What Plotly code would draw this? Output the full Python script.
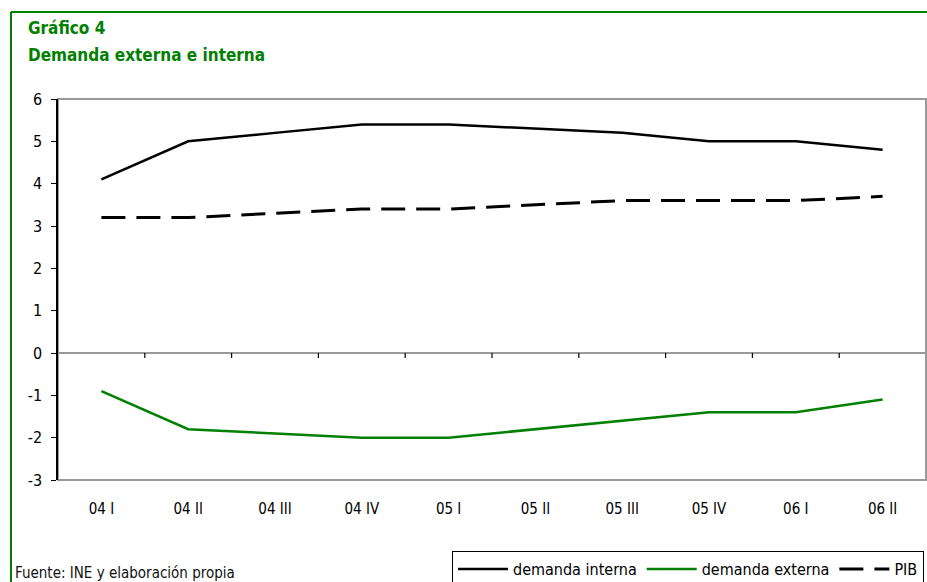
import plotly.graph_objects as go

categories = ["04 I", "04 II", "04 III", "04 IV", "05 I", "05 II", "05 III", "05 IV", "06 I", "06 II"]
demanda_interna = [4.1, 5.0, 5.2, 5.4, 5.4, 5.3, 5.2, 5.0, 5.0, 4.8]
demanda_externa = [-0.9, -1.8, -1.9, -2.0, -2.0, -1.8, -1.6, -1.4, -1.4, -1.1]
pib = [3.2, 3.2, 3.3, 3.4, 3.4, 3.5, 3.6, 3.6, 3.6, 3.7]
y_ticks = [-3, -2, -1, 0, 1, 2, 3, 4, 5, 6]
y_tick_labels = ["-3", "-2", "-1", "0", "1", "2", "3", "4", "5", "6"]

FONT = "DejaVu Sans Condensed, Liberation Sans Narrow, Arial Narrow, sans-serif"
GREEN = "#008000"

W, H = 927, 582
L, R, T, B = 58, 1, 99, 102
pw, ph = W - L - R, H - T - B

def px(x):
    return (x - L) / pw

def py(y):
    return (H - B - y) / ph

fig = go.Figure()
fig.add_trace(go.Scatter(x=categories, y=demanda_interna, name="demanda interna",
                         mode="lines", line=dict(color="black", width=2.5)))
fig.add_trace(go.Scatter(x=categories, y=demanda_externa, name="demanda externa",
                         mode="lines", line=dict(color=GREEN, width=2.5)))
fig.add_trace(go.Scatter(x=categories, y=pib, name="PIB",
                         mode="lines", line=dict(color="black", width=3, dash="24px,11px")))

shapes = []
# plot area border (gray)
shapes.append(dict(type="rect", xref="paper", yref="paper", x0=0, x1=1, y0=0, y1=1,
                   line=dict(color="#999999", width=2), layer="below"))
# tick marks on the zero line at category boundaries
for i in range(len(categories) - 1):
    shapes.append(dict(type="line", xref="x", yref="y", x0=i + 0.5, x1=i + 0.5,
                       y0=0, y1=-0.12, line=dict(color="black", width=1.2)))
# green frame
shapes.append(dict(type="line", xref="paper", yref="paper", x0=px(11), x1=px(940),
                   y0=py(12), y1=py(12), line=dict(color=GREEN, width=2)))
shapes.append(dict(type="line", xref="paper", yref="paper", x0=px(11), x1=px(11),
                   y0=py(12), y1=py(600), line=dict(color=GREEN, width=2)))

annotations = [
    dict(text="<b>Gráfico 4</b>", xref="paper", yref="paper", x=px(26), y=py(28),
         xanchor="left", yanchor="middle", showarrow=False,
         font=dict(family=FONT, size=17, color=GREEN)),
    dict(text="<b>Demanda externa e interna</b>", xref="paper", yref="paper", x=px(26), y=py(55),
         xanchor="left", yanchor="middle", showarrow=False,
         font=dict(family=FONT, size=17, color=GREEN)),
    dict(text="Fuente: INE y elaboración propia", xref="paper", yref="paper", x=px(13), y=py(573),
         xanchor="left", yanchor="middle", showarrow=False,
         font=dict(family=FONT, size=15, color="#111111")),
]

fig.update_layout(
    width=W, height=H,
    margin=dict(l=L, r=R, t=T, b=B),
    paper_bgcolor="white", plot_bgcolor="white",
    font=dict(family=FONT, size=15, color="black"),
    showlegend=True,
    legend=dict(orientation="h", xref="container", yref="container",
                x=452 / W, y=1 - 551 / H, xanchor="left", yanchor="top",
                bordercolor="black", borderwidth=1, bgcolor="white",
                font=dict(family=FONT, size=16, color="black"),
                itemwidth=50, tracegroupgap=0),
    shapes=shapes,
    annotations=annotations,
    xaxis=dict(type="category", categoryorder="array", categoryarray=categories,
               range=[-0.5, len(categories) - 0.5], showgrid=False, zeroline=False,
               showline=False, ticks="", ticklabelstandoff=18,
               tickfont=dict(family=FONT, size=15, color="black")),
    yaxis=dict(range=[-3, 6], tickvals=y_ticks, ticktext=y_tick_labels, showgrid=False,
               zeroline=True, zerolinecolor="#999999", zerolinewidth=2,
               showline=True, linecolor="black", linewidth=1.5,
               ticks="outside", ticklen=5, tickcolor="black", ticklabelstandoff=6,
               tickfont=dict(family=FONT, size=16, color="black")),
)

fig.write_html("out.html")
